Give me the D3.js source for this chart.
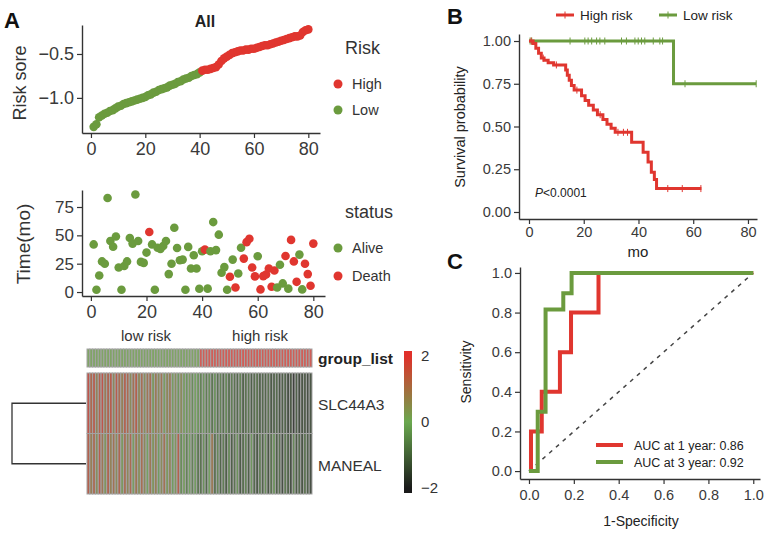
<!DOCTYPE html>
<html><head><meta charset="utf-8">
<script src="https://cdn.jsdelivr.net/npm/d3@7"></script>
<style>
body{margin:0;background:#fff;}
svg text{font-family:"Liberation Sans",Arial,sans-serif;}
</style></head>
<body><svg id="c" width="766" height="538"></svg>
<script>
// ---------------- DATA ----------------
const riskScore = [-1.33,-1.30,-1.22,-1.20,-1.18,-1.17,-1.15,-1.14,-1.12,-1.10,
 -1.09,-1.07,-1.06,-1.05,-1.04,-1.03,-1.02,-1.01,-1.00,-0.99,
 -0.97,-0.96,-0.94,-0.93,-0.91,-0.90,-0.89,-0.88,-0.86,-0.85,
 -0.84,-0.82,-0.81,-0.79,-0.78,-0.77,-0.75,-0.74,-0.73,-0.71,
 -0.69,-0.68,-0.68,-0.67,-0.66,-0.65,-0.62,-0.58,-0.55,-0.53,
 -0.51,-0.49,-0.48,-0.47,-0.46,-0.46,-0.45,-0.45,-0.44,-0.44,
 -0.43,-0.42,-0.41,-0.40,-0.40,-0.39,-0.38,-0.37,-0.36,-0.35,
 -0.34,-0.33,-0.32,-0.31,-0.30,-0.30,-0.29,-0.25,-0.23,-0.22];
const lowRiskCount = 40;
const riskGroups = ["High","Low"];
const survTime = [42,2,14.6,27,25,83,45,40,49,21.7,
 2,23,27,47.6,42.7,86,45,26.6,25.7,34.8,
 53,42,2,39,38,40.6,45,15.8,25,56.7,
 38.9,28,28.6,2,39.8,20.8,32.5,20.8,2.9,36,
 37.4,3,36,61.7,37,50.6,17,22,2,13.5,
 28.6,4,16.4,39,29.5,44,47,21.7,13.8,31.6,
 2.3,14,15.5,20.8,4.7,19,4,24,7.6,31.8,
 3,46,27,9,33,2.3,25,15.8,5.5,42.7];
const survStatus = ["A","A","A","A","A","A","A","A","A","A",
 "A","A","A","A","A","A","A","A","A","A",
 "D","A","A","A","A","A","A","A","A","A",
 "A","A","A","A","A","A","A","A","A","A",
 "D","A","A","A","A","A","A","A","A","D",
 "A","D","A","A","D","D","D","D","D","A",
 "D","D","D","D","D","D","A","A","A","D",
 "A","D","D","D","A","A","D","D","D","D"];
const genes = ["SLC44A3","MANEAL"];
const exprSLC44A3 = [1.8,1.3,1.6,0.7,1.5,1.8,0.9,1.4,1.6,0.6,
 1.6,1.2,0.8,1.5,1.3,0.5,1.1,1.5,0.6,1.2,
 0.4,1.0,1.2,0.2,0.9,0.5,1.0,0.1,0.6,0.9,
 0.1,0.4,-0.2,0.5,0.1,-0.2,0.2,-0.4,0.0,-0.2,
 -0.6,-0.2,-0.7,-0.4,-0.8,-0.3,-0.9,-0.6,-1.0,-0.5,
 -1.0,-0.7,-0.9,-1.1,-0.6,-1.2,-0.9,-0.8,-1.3,-1.0,
 -0.9,-1.3,-1.1,-1.2,-0.9,-1.4,-1.2,-1.1,-1.5,-1.3,
 -1.2,-1.6,-1.4,-1.9,-1.3,-1.7,-1.5,-1.4,-1.6,-1.5];
const exprMANEAL = [1.5,0.8,1.3,0.4,1.6,1.0,0.3,1.4,0.7,1.1,
 0.5,1.4,0.2,1.2,0.6,1.3,0.1,1.0,0.4,1.2,
 0.6,0.0,1.0,0.3,0.8,-0.1,0.5,1.1,0.2,0.7,
 -0.1,0.3,1.5,-0.4,0.1,-0.6,0.0,-0.6,-0.1,-0.8,
 -0.9,-0.3,-1.1,0.0,0.9,-1.0,-0.5,-1.2,-0.7,-1.3,
 -0.5,-1.3,-0.9,-0.3,-1.4,-1.0,-0.6,-1.3,-0.2,-1.1,
 -1.4,-0.7,-1.2,-0.4,-1.5,-0.9,-0.3,-1.3,-1.0,-1.6,
 -0.8,-1.2,-1.6,-0.5,-1.4,-1.1,-1.5,-0.9,-1.3,-1.6];
const colorbarTicks = [2,0,-2];
// Kaplan-Meier
const highKM_t = [0,1.5,2.5,3.5,4.5,5.5,7,9,13.4,14,14.7,15.5,16.5,19.2,20.5,21.8,23.5,25,27,28.5,30,31.5,37.5,41.7,43.5,44.7,45.8,46.6];
const highKM_s = [1,0.985,0.957,0.928,0.90,0.887,0.873,0.86,0.83,0.80,0.77,0.74,0.713,0.68,0.652,0.624,0.597,0.569,0.541,0.513,0.49,0.466,0.408,0.35,0.292,0.233,0.19,0.137];
const highKM_end = 63;
const highCensor = [0.8,5.2,10,17.5,26,32.5,34.5,36,50.7,56,62.8];
const lowKM_t = [0,52.8];
const lowKM_s = [1,0.75];
const lowKM_end = 83;
const lowCensor = [0.4,1,15,20.4,21.6,22.9,24.7,25.9,27.7,33.8,35.6,38.7,39.9,41.1,42.3,45.4,47.8,48.8,57,83];
const kmTicksX = [0,20,40,60,80];
const kmTicksY = [0,0.25,0.5,0.75,1];
// ROC
const roc1_fpr = [0,0.009,0.009,0.057,0.057,0.138,0.138,0.1875,0.1875,0.31,0.31,1];
const roc1_tpr = [0,0,0.2,0.2,0.4,0.4,0.6,0.6,0.8,0.8,1,1];
const roc3_fpr = [0,0.039,0.039,0.074,0.074,0.153,0.153,0.19,0.19,1];
const roc3_tpr = [0,0,0.3,0.3,0.815,0.815,0.898,0.898,1,1];
const rocLabels = ["AUC at 1 year: 0.86","AUC at 3 year: 0.92"];
const rocTicks = [0,0.2,0.4,0.6,0.8,1];

// ---------------- STYLE ----------------
const RED = "#E0362F", GREEN = "#6B9B3E", AX = "#333", TXT = "#3a3a3a";
const svg = d3.select("#c");

function styleAxis(g, fs){
  g.select(".domain").attr("stroke", AX).attr("stroke-width", 1.4);
  g.selectAll(".tick line").attr("stroke", AX).attr("stroke-width", 1.2);
  g.selectAll(".tick text").attr("fill", TXT).style("font-size", fs+"px").style("font-family","Liberation Sans, Arial, sans-serif");
}
function txt(x,y,s,opt={}){
  const t = svg.append("text").attr("x",x).attr("y",y).text(s)
    .style("font-size",(opt.size||14)+"px").attr("fill",opt.fill||"#222")
    .attr("text-anchor",opt.anchor||"start");
  if(opt.bold) t.style("font-weight","bold");
  if(opt.rotate) t.attr("transform",`rotate(-90,${x},${y})`);
  return t;
}

// ---------------- PANEL A: risk score ----------------
const idx = d3.range(riskScore.length);
const xA = d3.scaleLinear().domain([-3.3,84.3]).range([82,320]);
const yA = d3.scaleLinear().domain([-1.40,-0.17]).range([133,25]);
const gAx = svg.append("g").attr("transform","translate(0,133)")
  .call(d3.axisBottom(xA).tickValues([0,20,40,60,80]).tickSize(5).tickSizeOuter(0).tickPadding(4));
styleAxis(gAx,18);
const gAy = svg.append("g").attr("transform","translate(82,0)")
  .call(d3.axisLeft(yA).tickValues([-1.0,-0.5]).tickFormat(d3.format(".1f")).tickSize(5).tickSizeOuter(0).tickPadding(3));
styleAxis(gAy,18);
svg.append("g").selectAll("circle").data(idx).join("circle")
  .attr("cx",i=>xA(i+1)).attr("cy",i=>yA(riskScore[i])).attr("r",4.3)
  .attr("fill",i=> i < lowRiskCount ? GREEN : RED);
txt(205,27,"All",{size:16,bold:true,anchor:"middle",fill:"#222"});
txt(4,28,"A",{size:22,bold:true,fill:"#111"});
txt(26,83,"Risk sore",{size:18,anchor:"middle",rotate:true,fill:"#333"});
// legend Risk
txt(345,54,"Risk",{size:18,fill:"#333"});
const riskCols = {High:RED, Low:GREEN};
riskGroups.forEach((k,i)=>{
  svg.append("circle").attr("cx",338).attr("cy",84+i*26).attr("r",4.5).attr("fill",riskCols[k]);
  txt(352,89+i*26,k,{size:14.5,fill:"#333"});
});

// ---------------- PANEL A: survival time scatter ----------------
const xS = d3.scaleLinear().domain([-3.2,84.2]).range([82,325]);
const yS = d3.scaleLinear().domain([-3.5,90]).range([296,190]);
const gSx = svg.append("g").attr("transform","translate(0,296)")
  .call(d3.axisBottom(xS).tickValues([0,20,40,60,80]).tickSize(5).tickSizeOuter(0).tickPadding(4));
styleAxis(gSx,18);
const gSy = svg.append("g").attr("transform","translate(82,0)")
  .call(d3.axisLeft(yS).tickValues([0,25,50,75]).tickSize(5).tickSizeOuter(0).tickPadding(3));
styleAxis(gSy,17);
svg.append("g").selectAll("circle").data(idx).join("circle")
  .attr("cx",i=>xS(i+1)).attr("cy",i=>yS(survTime[i])).attr("r",4.3)
  .attr("fill",i=> survStatus[i]==="D" ? RED : GREEN);
txt(30,244,"Time(mo)",{size:19,anchor:"middle",rotate:true,fill:"#333"});
txt(345,218,"status",{size:18,fill:"#333"});
[["Alive",GREEN],["Death",RED]].forEach((d,i)=>{
  svg.append("circle").attr("cx",338).attr("cy",248+i*28).attr("r",4.5).attr("fill",d[1]);
  txt(352,253+i*28,d[0],{size:14.5,fill:"#333"});
});
txt(146,341,"low risk",{size:15,anchor:"middle",fill:"#333"});
txt(260,341,"high risk",{size:15,anchor:"middle",fill:"#333"});

// ---------------- PANEL A: heatmap ----------------
const xH = d3.scaleBand().domain(idx).range([87,312]);
const heat = d3.scaleLinear().domain([-2,0,2]).range(["#1a1a1a","#6aa84f","#e0302a"]).clamp(true);
const mute = c => d3.interpolateRgb(c, "#8e8e8e")(0.3);
const BORDER = "#a3a3a3";
const BW = 1.0;
// group bar
svg.append("g").selectAll("rect").data(idx).join("rect")
  .attr("x",i=>xH(i)).attr("width",xH.bandwidth()).attr("y",349).attr("height",18)
  .attr("fill",i=> mute(i<lowRiskCount ? "#7aae55" : "#ec4a40"))
  .attr("stroke",BORDER).attr("stroke-width",BW);
const rows = [exprSLC44A3, exprMANEAL];
const yH = d3.scaleBand().domain([0,1]).range([373,494]);
rows.forEach((vals,r)=>{
  svg.append("g").selectAll("rect").data(idx).join("rect")
    .attr("x",i=>xH(i)).attr("width",xH.bandwidth()).attr("y",yH(r)).attr("height",yH.bandwidth())
    .attr("fill",i=>mute(heat(vals[i]))).attr("stroke",BORDER).attr("stroke-width",BW);
});
txt(318,364,"group_list",{size:15.5,bold:true,fill:"#222"});
genes.forEach((g,r)=> txt(318,yH(r)+yH.bandwidth()/2+7,g,{size:15.5,fill:"#333"}));
// dendrogram
const dend = svg.append("g").attr("stroke","#333").attr("stroke-width",1.3).attr("fill","none");
const yMid0 = yH(0)+yH.bandwidth()/2, yMid1 = yH(1)+yH.bandwidth()/2;
dend.append("path").attr("d",`M86,${yMid0}H12V${yMid1}H86`);
// colorbar
const yC = d3.scaleLinear().domain([-2.15,2.15]).range([493,351]);
const defs = svg.append("defs");
const lg = defs.append("linearGradient").attr("id","cb").attr("x1",0).attr("x2",0).attr("y1",1).attr("y2",0);
d3.range(-2.15,2.2,0.05).forEach(v=>{
  lg.append("stop").attr("offset",(v+2.15)/4.3).attr("stop-color",heat(v));
});
svg.append("rect").attr("x",404).attr("y",351).attr("width",8).attr("height",142).attr("fill","url(#cb)");
colorbarTicks.forEach(v=> txt(421,yC(v)+5,v<0?"\u2212"+Math.abs(v):String(v),{size:15,fill:"#333"}));

// ---------------- PANEL B: KM ----------------
const xB = d3.scaleLinear().domain([-3.65,83.3]).range([519,757]);
const yB = d3.scaleLinear().domain([-0.041,1.041]).range([219,34]);
const gBx = svg.append("g").attr("transform","translate(0,219)")
  .call(d3.axisBottom(xB).tickValues(kmTicksX).tickSize(5).tickSizeOuter(0).tickPadding(3));
styleAxis(gBx,14.5);
const gBy = svg.append("g").attr("transform","translate(519,0)")
  .call(d3.axisLeft(yB).tickValues(kmTicksY).tickFormat(d3.format(".2f")).tickSize(5).tickSizeOuter(0).tickPadding(3));
styleAxis(gBy,14.5);
function kmPts(t,s,end){ const p=t.map((v,i)=>[v,s[i]]); p.push([end,s[s.length-1]]); return p; }
function sAt(t,s,tt){ let v=s[0]; t.forEach((x,i)=>{ if(x<=tt) v=s[i]; }); return v; }
const stepLine = d3.line().x(d=>xB(d[0])).y(d=>yB(d[1])).curve(d3.curveStepAfter);
[[lowKM_t,lowKM_s,lowKM_end,lowCensor,GREEN],[highKM_t,highKM_s,highKM_end,highCensor,RED]].forEach(([t,s,e,c,col])=>{
  svg.append("path").attr("d",stepLine(kmPts(t,s,e))).attr("fill","none").attr("stroke",col).attr("stroke-width",3);
  svg.append("g").selectAll("line").data(c).join("line")
    .attr("x1",d=>xB(d)).attr("x2",d=>xB(d))
    .attr("y1",d=>yB(sAt(t,s,d))-3.5).attr("y2",d=>yB(sAt(t,s,d))+3.5)
    .attr("stroke",col).attr("stroke-width",1);
});
const pt = txt(535,197,"",{size:12,fill:"#222"});
pt.append("tspan").style("font-style","italic").text("P");
pt.append("tspan").text("<0.0001");
txt(465,127,"Survival probability",{size:14.5,anchor:"middle",rotate:true,fill:"#222"});
txt(638,257,"mo",{size:15,anchor:"middle",fill:"#222"});
txt(447,24,"B",{size:22,bold:true,fill:"#111"});
[["High risk",RED,556],["Low risk",GREEN,659]].forEach(([lab,col,x])=>{
  svg.append("line").attr("x1",x).attr("x2",x+18).attr("y1",15).attr("y2",15).attr("stroke",col).attr("stroke-width",3);
  svg.append("line").attr("x1",x+9).attr("x2",x+9).attr("y1",11.5).attr("y2",18.5).attr("stroke",col).attr("stroke-width",1);
  txt(x+24,20,lab,{size:13.5,fill:"#222"});
});

// ---------------- PANEL C: ROC ----------------
const xR = d3.scaleLinear().domain([-0.04,1.03]).range([520,760]);
const yR = d3.scaleLinear().domain([-0.04,1.03]).range([479,267]);
const gRx = svg.append("g").attr("transform","translate(0,479)")
  .call(d3.axisBottom(xR).tickValues(rocTicks).tickFormat(d3.format(".1f")).tickSize(5).tickSizeOuter(0).tickPadding(6));
styleAxis(gRx,14.5);
const gRy = svg.append("g").attr("transform","translate(520,0)")
  .call(d3.axisLeft(yR).tickValues(rocTicks).tickFormat(d3.format(".1f")).tickSize(5).tickSizeOuter(0).tickPadding(3));
styleAxis(gRy,14.5);
svg.append("line").attr("x1",xR(0)).attr("y1",yR(0)).attr("x2",xR(1)).attr("y2",yR(1))
  .attr("stroke","#444").attr("stroke-width",1.5).attr("stroke-dasharray","4,5");
const rocLine = d3.line().x(d=>xR(d[0])).y(d=>yR(d[1]));
[[roc1_fpr,roc1_tpr,RED],[roc3_fpr,roc3_tpr,GREEN]].forEach(([f,t,col])=>{
  svg.append("path").attr("d",rocLine(f.map((v,i)=>[v,t[i]]))).attr("fill","none")
    .attr("stroke",col).attr("stroke-width",4);
});
rocLabels.forEach((lab,i)=>{
  const y = 445+i*17;
  svg.append("line").attr("x1",596).attr("x2",623).attr("y1",y).attr("y2",y).attr("stroke",i?GREEN:RED).attr("stroke-width",4);
  txt(634,y+4.5,lab,{size:12.5,fill:"#222"});
});
txt(471,372,"Sensitivity",{size:14,anchor:"middle",rotate:true,fill:"#222"});
txt(641,526,"1-Specificity",{size:14,anchor:"middle",fill:"#222"});
txt(447,269,"C",{size:22,bold:true,fill:"#111"});
</script></body></html>
